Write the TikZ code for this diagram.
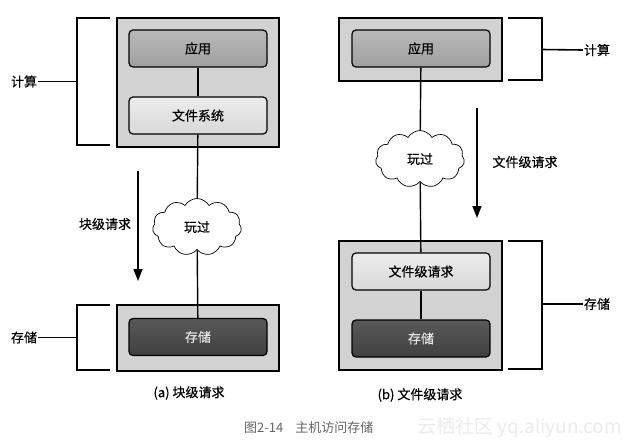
\documentclass[tikz,border=0pt]{standalone}
\usepackage{fontspec}
\setmainfont{Noto Sans CJK SC}[FakeBold=0.5]
\newfontfamily\plaincjk{Noto Sans CJK SC}
\usetikzlibrary{shapes.symbols,arrows.meta}
\tikzset{
  outerbox/.style={draw=black, line width=1.4pt, fill=gray!35, inner sep=0pt},
  appbox/.style={draw=black, line width=1.2pt, rounded corners=4pt, top color=gray!55, bottom color=gray!75, minimum width=138pt, minimum height=37pt, font=\fontsize{13}{15}\selectfont},
  fsbox/.style={draw=black, line width=1.2pt, rounded corners=4pt, top color=gray!15, bottom color=gray!30, minimum width=138pt, minimum height=37pt, font=\fontsize{13}{15}\selectfont},
  stbox/.style={draw=black, line width=1.2pt, rounded corners=4pt, top color=gray!70!black, bottom color=black!75, text=gray!20, minimum width=138pt, minimum height=37pt, font=\fontsize{13}{15}\selectfont},
  netcloud/.style={cloud, cloud puffs=11, cloud puff arc=120, aspect=1.6, draw=black, line width=0.7pt, fill=white, minimum width=89pt, minimum height=57pt, inner sep=0pt, font=\fontsize{13}{15}\selectfont},
  link/.style={line width=1.4pt},
  brace/.style={line width=1.6pt},
  lbl/.style={font=\fontsize{13}{15}\selectfont, inner sep=1pt},
  reqarrow/.style={line width=1.6pt, -{Triangle[length=12pt,width=9pt]}},
}
\begin{document}
\begin{tikzpicture}[x=1pt,y=-1pt]
\useasboundingbox[fill=white] (0,0) rectangle (635,445);

% ---------- (a) block level ----------
\node[outerbox, minimum width=162pt, minimum height=129pt] (aouter) at (198,82.5) {};
\node[appbox] (aapp) at (198,48.5) {应用};
\node[fsbox] (afs) at (198,115.5) {文件系统};
\node[netcloud] (acloud) at (197,227) {玩过};
\node[outerbox, minimum width=162pt, minimum height=66pt] (asouter) at (198,338) {};
\node[stbox] (ast) at (198,337) {存储};
\draw[link] (aapp) -- (afs);
\draw[link] (afs) -- (acloud);
\draw[link] (acloud) -- (ast);

% brackets left
\coordinate (ab1t) at (110,18);
\coordinate (ab1b) at (110,145);
\coordinate (ab1m) at (77,81.5);
\draw[brace] (ab1t) -- (77,18) -- (77,145) -- (ab1b);
\node[lbl] (acomp) at (24,81.5) {计算};
\draw[brace] (acomp.east) -- (ab1m);

\coordinate (ab2t) at (110,305);
\coordinate (ab2b) at (110,370);
\coordinate (ab2m) at (77,337.5);
\draw[brace] (ab2t) -- (77,305) -- (77,370) -- (ab2b);
\node[lbl] (astore) at (24,337.5) {存储};
\draw[brace] (astore.east) -- (ab2m);

% arrow
\coordinate (aarr1) at (138,171);
\coordinate (aarr2) at (138,281);
\draw[reqarrow] (aarr1) -- (aarr2);
\node[lbl] (areq) at (105,224) {块级请求};

\node[lbl] (acap) at (189,393) {(a) 块级请求};

% ---------- (b) file level ----------
\node[outerbox, minimum width=163pt, minimum height=63pt] (bouter) at (420.5,49.5) {};
\node[appbox] (bapp) at (421,48.5) {应用};
\node[netcloud] (bcloud) at (420,159) {玩过};
\node[outerbox, minimum width=163pt, minimum height=129pt] (bsouter) at (420.5,305.5) {};
\node[fsbox] (bfl) at (421,271.5) {文件级请求};
\node[stbox] (bst) at (421,338.5) {存储};
\draw[link] (bapp) -- (bcloud);
\draw[link] (bcloud) -- (bfl);
\draw[link] (bfl) -- (bst);

% brackets right
\coordinate (bb1t) at (508,18);
\coordinate (bb1b) at (508,80);
\coordinate (bb1m) at (542,49.5);
\draw[brace] (bb1t) -- (542,18) -- (542,80) -- (bb1b);
\node[lbl] (bcomp) at (597,50) {计算};
\draw[brace] (bb1m) -- (bcomp.west);

\coordinate (bb2t) at (508,241);
\coordinate (bb2b) at (508,369);
\coordinate (bb2m) at (542,304);
\draw[brace] (bb2t) -- (542,241) -- (542,369) -- (bb2b);
\node[lbl] (bstore) at (597,304) {存储};
\draw[brace] (bb2m) -- (bstore.west);

% arrow
\coordinate (barr1) at (477,108);
\coordinate (barr2) at (477,218);
\draw[reqarrow] (barr1) -- (barr2);
\node[lbl] (breq) at (525,162) {文件级请求};

\node[lbl] (bcap) at (420,395) {(b) 文件级请求};

% ---------- figure caption ----------
\node[inner sep=1pt, text=gray!80!black, font=\plaincjk\fontsize{13}{15}\selectfont, anchor=west] (figcap) at (243,428) {图2-14\hspace{12pt}主机访问存储};
\node[inner sep=1pt, text=gray!15, font=\plaincjk\fontsize{19}{21}\selectfont, anchor=west] (wm) at (416,428) {云栖社区 yq.aliyun.com};
\end{tikzpicture}
\end{document}
